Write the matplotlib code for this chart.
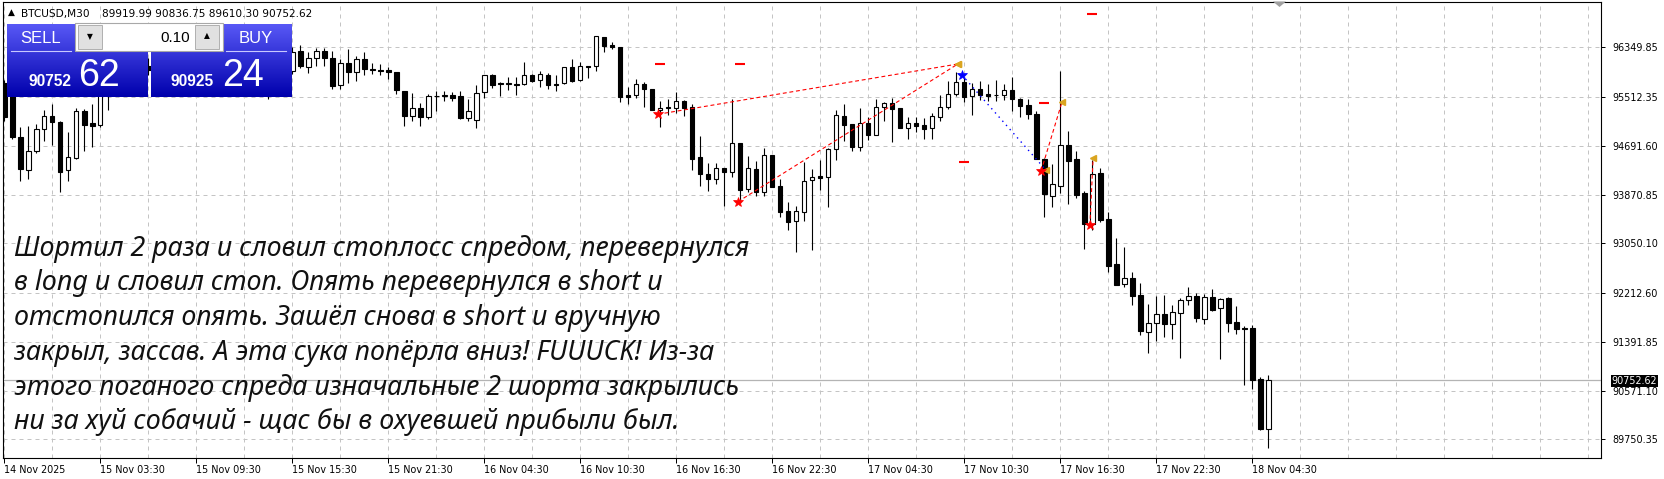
import matplotlib
matplotlib.use("Agg")
import matplotlib.pyplot as plt
import numpy as np

plt.rcParams["font.family"] = ["DejaVu Sans"]

# BTCUSD M30, bar 0 = 14 Nov 21:30. Bars 14..35 sit behind the trade panel (guessed).
OPEN = [95749, 95631, 94840, 94276, 94596, 94969, 95188, 95087, 94279, 94491,
        95277, 95070, 95037, 95547, 95799, 95934, 96069, 95900, 96035, 95968,
        96136, 96271, 96102, 96220, 96136, 95900, 96001, 96102, 96237, 96170,
        96001, 95867, 95968, 95833, 95934, 96102, 95951, 96288, 96023, 96165,
        96288, 96170, 95710, 96080, 95929, 96148, 95985, 95968, 95963, 95929,
        95614, 95185, 95323, 95182, 95522, 95535, 95547, 95525, 95165, 95121,
        95592, 95878, 95749, 95737, 95737, 95727, 95878, 95794, 95878, 95732,
        95744, 96013, 95804, 96035, 96030, 96518, 96389, 96350, 95547, 95542,
        95727, 95643, 95289, 95340, 95323, 95446, 95340, 94498, 94217, 94128,
        94313, 94256, 94734, 93959, 94301, 93919, 94537, 94015, 93589, 93421,
        93572, 94111, 94183, 94161, 94643, 95188, 95054, 94676, 95070, 94879,
        95350, 95407, 95328, 94996, 95070, 95042, 94986, 95182, 95340, 95569,
        95761, 95535, 95648, 95559, 95542, 95552, 95631, 95480, 95373, 95222,
        94474, 93852, 94020, 94700, 94469, 93892, 93380, 94229, 93454, 92697,
        92360, 92466, 92175, 91562, 91703, 91855, 91687, 91872, 92091, 92163,
        91781, 92146, 91956, 92124, 91720, 91619, 91619, 90766, 89919.99]
HIGH = [95799, 95698, 95008, 95033, 95059, 95294, 95395, 95109, 94924, 95328,
        95316, 95395, 95715, 95884, 96001, 96136, 96220, 96102, 96170, 96203,
        96338, 96389, 96304, 96372, 96271, 96069, 96170, 96304, 96405, 96304,
        96136, 96035, 96102, 96001, 96170, 96271, 96355, 96389, 96276, 96333,
        96333, 96293, 96153, 96321, 96203, 96271, 96091, 96069, 96013, 95934,
        95619, 95581, 95407, 95564, 95619, 95614, 95602, 95619, 95480, 95710,
        95884, 95895, 95761, 95845, 95850, 96102, 95900, 95946, 95912, 95878,
        96018, 96148, 96097, 96040, 96548, 96528, 96434, 96355, 95682, 95811,
        95771, 95648, 95446, 95480, 95597, 95463, 95390, 94852, 94397, 94407,
        94318, 95474, 94739, 94520, 94441, 94655, 94545, 94128, 93740, 93683,
        94424, 94296, 94453, 94660, 95294, 95395, 95059, 95328, 95171, 95480,
        95434, 95496, 95333, 95171, 95171, 95160, 95249, 95547, 95788, 95929,
        95828, 95744, 95777, 95732, 95794, 95732, 95845, 95488, 95474, 95283,
        94481, 94385, 95956, 94941, 94604, 93926, 94453, 94313, 93577, 93134,
        92988, 92567, 92377, 92028, 92168, 92180, 92011, 92134, 92315, 92208,
        92192, 92281, 92134, 92146, 91995, 91658, 91675, 90804, 90836.75]
LOW = [95109, 94806, 94099, 94133, 94570, 94767, 94710, 93919, 94104, 94464,
       94609, 94666, 95008, 95294, 95631, 95799, 95833, 95698, 95884, 95900,
       95968, 96035, 95934, 96069, 95833, 95732, 95867, 96035, 96102, 95934,
       95799, 95698, 95766, 95480, 95867, 95968, 95900, 95996, 95922, 96035,
       96035, 95643, 95643, 95754, 95788, 95878, 95895, 95878, 95821, 95564,
       95025, 95114, 95025, 95138, 95283, 95446, 95446, 95143, 95109, 94996,
       95491, 95670, 95530, 95631, 95552, 95715, 95771, 95687, 95653, 95619,
       95740, 95771, 95788, 95838, 95951, 96276, 96316, 95434, 95400, 95491,
       95350, 95294, 95013, 95215, 95244, 95198, 94279, 94020, 93936, 94043,
       93683, 94161, 93724, 93919, 93852, 93852, 93993, 93498, 93274, 92909,
       93426, 92929, 93948, 93666, 94453, 94772, 94609, 94609, 94789, 94873,
       95114, 94761, 94991, 94811, 94929, 94811, 94811, 95114, 95306, 95535,
       95434, 95210, 95463, 95451, 95451, 95463, 95272, 95182, 95143, 94469,
       93488, 93666, 93892, 93712, 93813, 92954, 93274, 93414, 92567, 92348,
       92320, 92011, 91506, 91208, 91405, 91478, 91439, 91124, 92011, 91725,
       91697, 91910, 91107, 91562, 91528, 90665, 90597, 89907, 89610.30]
CLOSE = [95177, 94840, 94293, 94596, 94969, 95188, 95087, 94256, 94498, 95277,
         95047, 95030, 95597, 95799, 95934, 96069, 95900, 96035, 95968, 96136,
         96271, 96102, 96220, 96136, 95900, 96001, 96102, 96237, 96170, 96001,
         95867, 95968, 95833, 95934, 96102, 96203, 96271, 96040, 96170, 96288,
         96170, 95703, 96080, 95939, 96148, 95979, 95963, 95951, 95934, 95626,
         95185, 95320, 95182, 95525, 95535, 95542, 95501, 95160, 95277, 95575,
         95878, 95720, 95737, 95749, 95720, 95878, 95783, 95895, 95720, 95710,
         96013, 95788, 96030, 96013, 96540, 96377, 96350, 95518, 95518, 95727,
         95653, 95299, 95328, 95323, 95441, 95333, 94474, 94212, 94138, 94313,
         94256, 94734, 93948, 94318, 93919, 94537, 94003, 93582, 93414, 93589,
         94094, 94161, 94155, 94638, 95205, 95047, 94676, 95070, 94879, 95340,
         95407, 95316, 94996, 95070, 95030, 94979, 95188, 95340, 95559, 95761,
         95518, 95648, 95547, 95535, 95552, 95631, 95474, 95367, 95222, 94474,
         93875, 94043, 94700, 94441, 93863, 93380, 94212, 93442, 92673, 92353,
         92466, 92168, 91579, 91703, 91855, 91687, 91889, 92091, 92168, 91798,
         92146, 91932, 92112, 91713, 91612, 91602, 90754, 89924, 90752.62]

XTICK_POS = [0, 12, 24, 36, 48, 60, 72, 84, 96, 108, 120, 132, 144, 156]
XTICK_LABELS = ["14 Nov 2025", "15 Nov 03:30", "15 Nov 09:30", "15 Nov 15:30",
                "15 Nov 21:30", "16 Nov 04:30", "16 Nov 10:30", "16 Nov 16:30",
                "16 Nov 22:30", "17 Nov 04:30", "17 Nov 10:30", "17 Nov 16:30",
                "17 Nov 22:30", "18 Nov 04:30"]
YTICKS = [96349.85, 95512.35, 94691.60, 93870.85, 93050.10,
          92212.60, 91391.85, 90571.10, 89750.35]

# trade history: open arrow -> close arrow
TRADE_OPEN_X = [81.7, 91.7, 119.7, 129.6, 135.7]
TRADE_OPEN_P = [95222, 93750, 95884, 94267, 93353]
TRADE_CLOSE_X = [119.2, 119.2, 130.2, 132.2, 136.1]
TRADE_CLOSE_P = [96069, 96069, 94284, 95424, 94481]
TRADE_SIDE = ["sell", "sell", "buy", "sell", "sell"]
# stop levels (red dashes)
LEVEL_X = [82, 92, 120, 130, 136]
LEVEL_P = [96069, 96069, 94414, 95407, 96905]

HEADER = "BTCUSD,M30"
HEADER_OHLC = "89919.99 90836.75 89610.30 90752.62"
BID, ASK, LOT = ("90752", "62"), ("90925", "24"), "0.10"

TEXT_LINES = [
    "Шортил 2 раза и словил стоплосс спредом, перевернулся",
    "в long и словил стоп. Опять перевернулся в short и",
    "отстопился опять. Зашёл снова в short и вручную",
    "закрыл, зассав. А эта сука попёрла вниз! FUUUCK! Из-за",
    "этого поганого спреда изначальные 2 шорта закрылись",
    "ни за хуй собачий - щас бы в охуевшей прибыли был.",
]

W, H = 1664, 479
fig = plt.figure(figsize=(W / 100, H / 100), dpi=100)
ax = fig.add_axes([2.7 / W, 21 / H, 1598 / W, 456.5 / H])

o, h, l, c = map(np.asarray, (OPEN, HIGH, LOW, CLOSE))
x = np.arange(len(o))
up = c > o

ax.vlines(x, l, h, color="black", lw=0.8, zorder=3)
ax.bar(x[up], (c - o)[up], bottom=o[up], width=0.55, facecolor="white",
       edgecolor="black", lw=0.8, zorder=4)
ax.bar(x[~up], (o - c)[~up], bottom=c[~up], width=0.55, facecolor="black",
       edgecolor="black", lw=0.8, zorder=4)

ax.axhline(CLOSE[-1], color="#b4b4b4", lw=0.9, zorder=2)

# trades
for x0, p0, x1, p1, side in zip(TRADE_OPEN_X, TRADE_OPEN_P, TRADE_CLOSE_X,
                                TRADE_CLOSE_P, TRADE_SIDE):
    if side == "sell":
        ax.plot([x0, x1], [p0, p1], color="red", lw=0.8, ls=(0, (3.5, 2.5)), zorder=5)
    else:
        ax.plot([x0, x1], [p0, p1], color="blue", lw=1.0, ls=(0, (1, 3)), zorder=5)
    ax.plot(x0, p0, marker="*", ms=7.5, color="red" if side == "sell" else "blue",
            mew=0.5, zorder=6)
    ax.plot(x1, p1, marker="<", ms=5, color="#daa520", zorder=6)
ax.plot(LEVEL_X, LEVEL_P, ls="none", marker="_", ms=7, mew=1.5, color="red", zorder=6)

ax.set_xlim(-0.2, 199.55)
ax.set_ylim(89435.7, 97120.8)

ax.set_xticks(XTICK_POS)
ax.set_xticklabels(XTICK_LABELS)
ax.set_xticks(range(0, 200, 6), minor=True)
for lab in ax.get_xticklabels():
    lab.set_ha("left")
ax.yaxis.tick_right()
ax.set_yticks(YTICKS)
ax.set_yticklabels([f"{v:.2f}" for v in YTICKS])

grid_kw = dict(color="#c4c4c4", lw=0.72, ls=(0, (4, 4)))
ax.grid(which="both", axis="x", **grid_kw)
ax.grid(which="major", axis="y", **grid_kw)
ax.set_axisbelow(True)
ax.tick_params(axis="x", which="major", length=3.6, width=0.72, pad=1.5, labelsize=6.9)
ax.tick_params(axis="x", which="minor", length=0)
ax.tick_params(axis="y", length=3, width=0.72, pad=5.5, labelsize=6.9)
for s in ax.spines.values():
    s.set_linewidth(0.8)

ax.annotate(f"{CLOSE[-1]:.2f}", xy=(1, CLOSE[-1]), xycoords=ax.get_yaxis_transform(),
            xytext=(11, -1.5), textcoords="offset pixels", ha="left", va="center",
            fontsize=6.9, color="white", annotation_clip=False,
            bbox=dict(boxstyle="square,pad=0.12", fc="black", ec="none"))

# overlay in pixel coordinates for the terminal widgets and the note
ov = fig.add_axes([0, 0, 1, 1])
ov.patch.set_visible(False)
ov.axis("off")


def grad_box(x0, x1, y0, y1):
    t = np.linspace(0, 1, 80)[:, None, None]
    top = np.array([88, 88, 246]) / 255
    bot = np.array([0, 0, 172]) / 255
    ov.imshow(top + (bot - top) * t, extent=(x0, x1, y1, y0), aspect="auto",
              interpolation="bilinear", zorder=1)


narrow = ["Liberation Sans Narrow", "Liberation Sans", "DejaVu Sans"]
sans = ["Liberation Sans", "DejaVu Sans"]

grad_box(7, 147.3, 24, 96.7)
grad_box(150.7, 291, 24, 96.7)
ov.add_patch(plt.Rectangle((75, 22.5), 147.5, 28.5, fc="white", ec="#a8a8a8", lw=0.8, zorder=2))
for bx in (77.5, 195.3):
    ov.add_patch(plt.Rectangle((bx, 24.5), 24, 24.5, fc="#e1e1e1", ec="#b0b0b0", lw=0.7, zorder=3))
ov.text(89.5, 37, "▼", fontsize=5.5, ha="center", va="center", zorder=4)
ov.text(207.3, 36, "▲", fontsize=5.5, ha="center", va="center", zorder=4)
ov.text(190, 42, LOT, fontsize=11, family=sans, ha="right", va="baseline", color="black", zorder=4)
ov.plot([11, 71], [50.5, 50.5], color="#c8c8ff", lw=0.8, zorder=3)
ov.plot([226, 286], [50.5, 50.5], color="#c8c8ff", lw=0.8, zorder=3)
ov.text(40.5, 42.5, "SELL", fontsize=12, family=narrow, ha="center", va="baseline", color="white", zorder=4)
ov.text(256, 42.5, "BUY", fontsize=12, family=narrow, ha="center", va="baseline", color="white", zorder=4)
ov.text(28.7, 86, BID[0], fontsize=11.2, family=sans, weight="bold", ha="left", va="baseline", color="white", zorder=4)
ov.text(77.7, 86, BID[1], fontsize=27, family=sans, ha="left", va="baseline", color="white", zorder=4)
ov.text(170.7, 86, ASK[0], fontsize=11.2, family=sans, weight="bold", ha="left", va="baseline", color="white", zorder=4)
ov.text(221.7, 86, ASK[1], fontsize=27, family=sans, ha="left", va="baseline", color="white", zorder=4)

ov.text(11, 12, "▲", fontsize=6.5, ha="center", va="center", zorder=4)
ov.text(21.5, 16.5, HEADER, fontsize=7.6, ha="left", va="baseline", zorder=4)
ov.text(102, 16.5, HEADER_OHLC, fontsize=7.6, ha="left", va="baseline", zorder=4)
ov.add_patch(plt.Polygon([(1273, 1.5), (1286, 1.5), (1279.5, 7)], fc="#a0a0a0", ec="none", zorder=4))

notes = []
for i, line in enumerate(TEXT_LINES):
    notes.append(ov.text(14, 255.7 + 34.7 * i, line, fontsize=20, style="italic",
                         weight="semibold", family=["Noto Sans", "DejaVu Sans"],
                         color="#111111", ha="left", va="baseline", zorder=5))

ov.set_xlim(0, W)
ov.set_ylim(H, 0)

# scale the note so its first line spans the same width as in the terminal
fig.canvas.draw()
r = fig.canvas.get_renderer()
wpx = notes[0].get_window_extent(r).width
for t in notes:
    t.set_fontsize(20 * 735 / wpx)

fig.savefig("out.png", dpi=100)
